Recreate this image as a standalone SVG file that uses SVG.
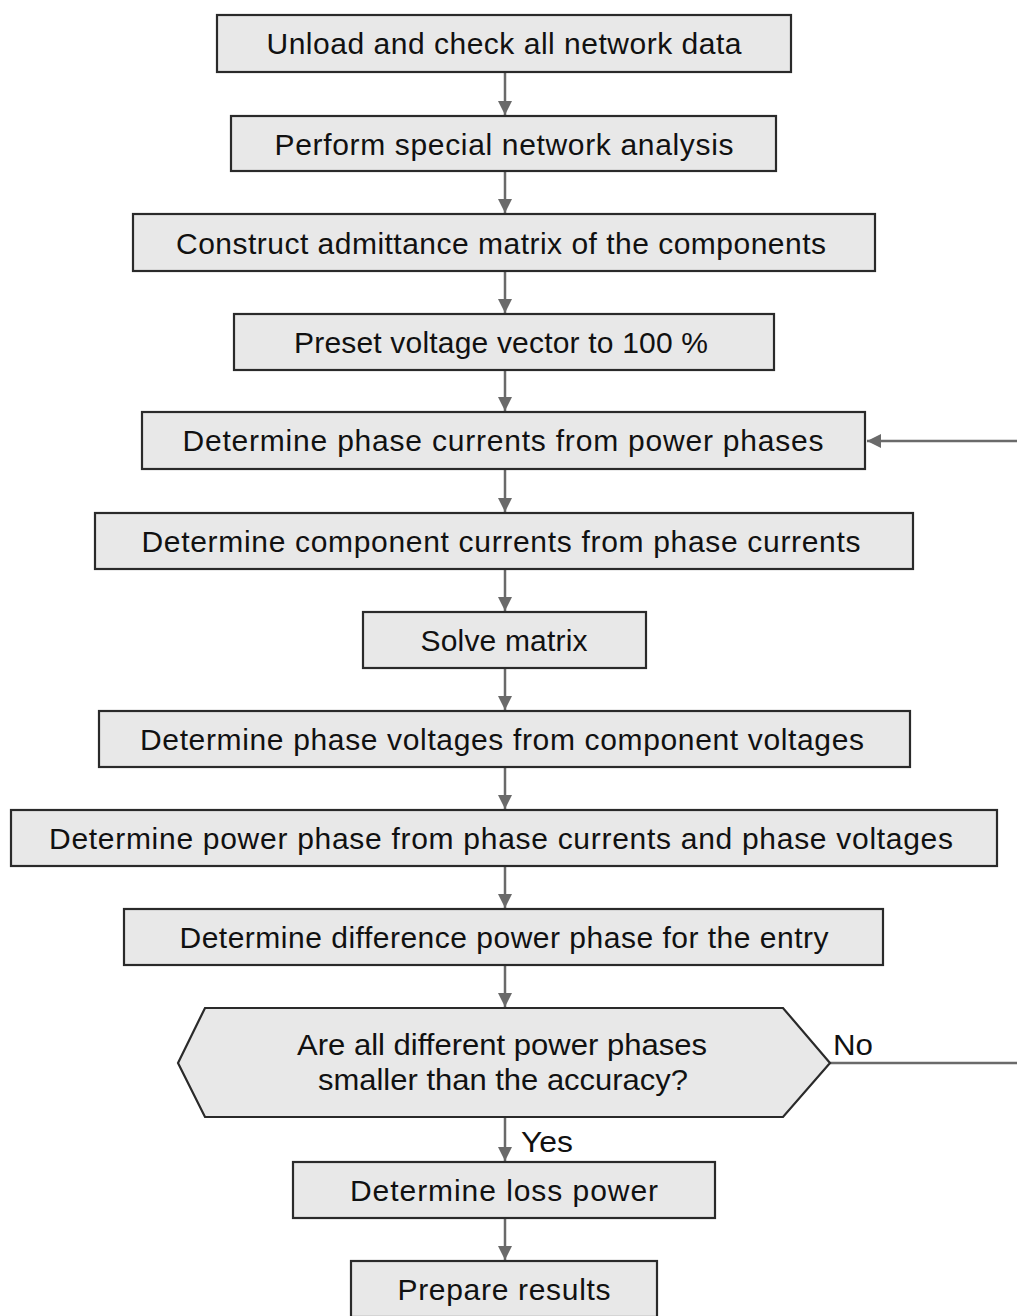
<svg xmlns="http://www.w3.org/2000/svg" width="1017" height="1316" viewBox="0 0 1017 1316">
<style>
.box{fill:#e8e8e8;stroke:#2a2a2a;stroke-width:2.2}
.t{font-family:"Liberation Sans",Arial,sans-serif;font-size:30px;fill:#111;text-anchor:middle}
.c{stroke:#6a6a6a;stroke-width:2.5;fill:none}
.lbl{font-family:"Liberation Sans",Arial,sans-serif;font-size:30px;fill:#111}
</style>
<defs>
<marker id="ah" viewBox="0 0 14 14" refX="14" refY="7" markerWidth="14" markerHeight="14" markerUnits="userSpaceOnUse" orient="auto">
<path d="M0,0 L14,7 L0,14 Z" fill="#6a6a6a"/>
</marker>
</defs>
<rect width="1017" height="1316" fill="#fff"/>
<g id="connectors">
<line class="c" x1="505" y1="72" x2="505" y2="115" marker-end="url(#ah)"/>
<line class="c" x1="505" y1="171" x2="505" y2="213" marker-end="url(#ah)"/>
<line class="c" x1="505" y1="271" x2="505" y2="313" marker-end="url(#ah)"/>
<line class="c" x1="505" y1="370" x2="505" y2="411" marker-end="url(#ah)"/>
<line class="c" x1="505" y1="469" x2="505" y2="512" marker-end="url(#ah)"/>
<line class="c" x1="505" y1="569" x2="505" y2="611" marker-end="url(#ah)"/>
<line class="c" x1="505" y1="668" x2="505" y2="710" marker-end="url(#ah)"/>
<line class="c" x1="505" y1="767" x2="505" y2="809" marker-end="url(#ah)"/>
<line class="c" x1="505" y1="866" x2="505" y2="908" marker-end="url(#ah)"/>
<line class="c" x1="505" y1="965" x2="505" y2="1007" marker-end="url(#ah)"/>
<line class="c" x1="505" y1="1117" x2="505" y2="1161" marker-end="url(#ah)"/>
<line class="c" x1="505" y1="1218" x2="505" y2="1260" marker-end="url(#ah)"/>
<path class="c" d="M830,1063 H1030 V441 H867" marker-end="url(#ah)"/>
<text class="lbl" x="833" y="1055" textLength="40" lengthAdjust="spacingAndGlyphs">No</text>
<text class="lbl" x="521" y="1152" textLength="52" lengthAdjust="spacingAndGlyphs">Yes</text>
</g>
<g id="n1"><rect class="box" x="217" y="15" width="574" height="57"/><text class="t" x="504" y="54" textLength="475">Unload and check all network data</text></g>
<g id="n2"><rect class="box" x="231" y="116" width="545" height="55"/><text class="t" x="504" y="155" textLength="459">Perform special network analysis</text></g>
<g id="n3"><rect class="box" x="133" y="214" width="742" height="57"/><text class="t" x="501" y="254" textLength="650">Construct admittance matrix of the components</text></g>
<g id="n4"><rect class="box" x="234" y="314" width="540" height="56"/><text class="t" x="501" y="353" textLength="414">Preset voltage vector to 100 %</text></g>
<g id="n5"><rect class="box" x="142" y="412" width="723" height="57"/><text class="t" x="503" y="451" textLength="641">Determine phase currents from power phases</text></g>
<g id="n6"><rect class="box" x="95" y="513" width="818" height="56"/><text class="t" x="501" y="552" textLength="719">Determine component currents from phase currents</text></g>
<g id="n7"><rect class="box" x="363" y="612" width="283" height="56"/><text class="t" x="504" y="651" textLength="167">Solve matrix</text></g>
<g id="n8"><rect class="box" x="99" y="711" width="811" height="56"/><text class="t" x="502" y="750" textLength="724">Determine phase voltages from component voltages</text></g>
<g id="n9"><rect class="box" x="11" y="810" width="986" height="56"/><text class="t" x="501" y="849" textLength="904">Determine power phase from phase currents and phase voltages</text></g>
<g id="n10"><rect class="box" x="124" y="909" width="759" height="56"/><text class="t" x="504" y="948" textLength="649">Determine difference power phase for the entry</text></g>
<g id="n11"><polygon class="box" points="205,1008 783,1008 830,1063 783,1117 205,1117 178,1063"/><text class="t" x="502" y="1055" textLength="410" lengthAdjust="spacingAndGlyphs">Are all different power phases</text><text class="t" x="503" y="1090" textLength="370" lengthAdjust="spacingAndGlyphs">smaller than the accuracy?</text></g>
<g id="n12"><rect class="box" x="293" y="1162" width="422" height="56"/><text class="t" x="504" y="1201" textLength="308">Determine loss power</text></g>
<g id="n13"><rect class="box" x="351" y="1261" width="306" height="56"/><text class="t" x="504" y="1300" textLength="213">Prepare results</text></g>
</svg>
